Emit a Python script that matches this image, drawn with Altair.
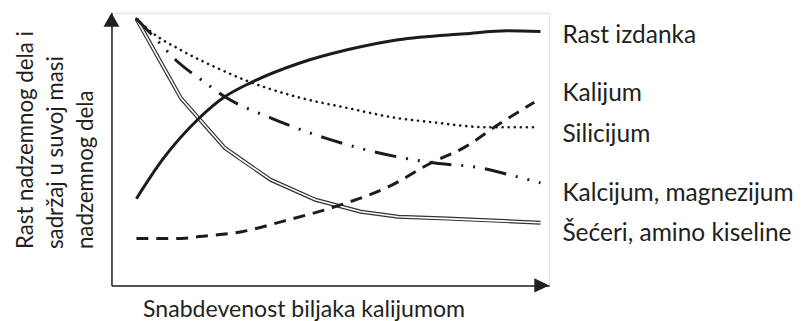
import altair as alt
import pandas as pd

# ---- values (x: potassium supply, y: relative level, both 0-10) ----
rast_x = [0.57, 1.16, 2.0, 2.57, 3.2, 4.27, 5.41, 6.55, 8.07, 9.05, 9.8]
rast_y = [3.18, 4.6, 6.13, 6.9, 7.45, 8.14, 8.65, 9.01, 9.23, 9.34, 9.31]

kal_x = [0.57, 1.61, 2.0, 2.98, 3.89, 5.25, 6.32, 7.3, 8.07, 8.82, 9.66]
kal_y = [1.72, 1.72, 1.79, 1.97, 2.34, 2.96, 3.61, 4.49, 5.07, 5.88, 6.72]

si_x = [0.57, 0.93, 1.61, 2.39, 3.07, 4.27, 5.41, 6.55, 7.3, 8.59, 9.73]
si_y = [9.78, 9.27, 8.61, 7.99, 7.52, 6.9, 6.5, 6.13, 5.99, 5.8, 5.8]

ca_x = [0.57, 1.09, 1.48, 2.07, 2.61, 3.66, 4.89, 6.55, 7.39, 8.43, 9.11, 9.8]
ca_y = [9.78, 8.91, 8.25, 7.52, 6.9, 6.13, 5.4, 4.71, 4.49, 4.31, 4.05, 3.76]

se_x = [0.57, 1.59, 2.59, 2.98, 3.64, 4.66, 5.7, 6.55, 7.68, 9.8]
se_y = [9.78, 6.86, 5.04, 4.6, 3.87, 3.14, 2.7, 2.52, 2.45, 2.3]

labels = ["Rast izdanka", "Kalijum", "Silicijum", "Kalcijum, magnezijum", "Šećeri, amino kiseline"]
label_x = [10.3, 10.3, 10.3, 10.3, 10.3]
label_y = [8.9, 6.75, 5.26, 3.1, 1.64]

x_title = "Snabdevenost biljaka kalijumom"
y_title = ["Rast nadzemnog dela i", "sadržaj u suvoj masi", "nadzemnog dela"]

x_domain = [0, 10]
y_domain = [0, 10]

# ---- styling ----
FONT = "Lato"
INK = "#231f20"
LINE = "#1c1c1c"

X = alt.X(
    "x:Q",
    scale=alt.Scale(domain=x_domain, nice=False, zero=False),
    axis=alt.Axis(
        ticks=False, labels=False, grid=False, domain=True,
        domainColor=INK, domainWidth=1.5,
        title=x_title, titleFont=FONT, titleFontSize=23.2, titleFontWeight="normal",
        titleColor=INK, titleX=193, titleY=31, titleAlign="center",
        titleBaseline="alphabetic", titleAngle=0,
    ),
)
Y = alt.Y(
    "y:Q",
    scale=alt.Scale(domain=y_domain, nice=False, zero=False),
    axis=alt.Axis(
        ticks=False, labels=False, grid=False, domain=True,
        domainColor=INK, domainWidth=1.5,
        title=y_title, titleFont=FONT, titleFontSize=22.4, titleFontWeight="normal",
        titleColor=INK, titleX=-79, titleY=237, titleAlign="left",
        titleBaseline="alphabetic", titleAngle=270, titleLineHeight=30,
    ),
)


def frame(xs, ys):
    return pd.DataFrame({"x": xs, "y": ys, "o": list(range(len(xs)))})


O = alt.Order("o:Q")

rast = alt.Chart(frame(rast_x, rast_y)).mark_line(
    color=LINE, strokeWidth=3, interpolate="monotone"
).encode(x=X, y=Y, order=O)

kal = alt.Chart(frame(kal_x, kal_y)).mark_line(
    color=LINE, strokeWidth=3, strokeDash=[12, 8], interpolate="monotone"
).encode(x=X, y=Y, order=O)

si = alt.Chart(frame(si_x, si_y)).mark_line(
    color=LINE, strokeWidth=2.6, strokeDash=[0.1, 6], strokeCap="round",
    interpolate="monotone"
).encode(x=X, y=Y, order=O)

ca = alt.Chart(frame(ca_x, ca_y)).mark_line(
    color=LINE, strokeWidth=3, strokeDash=[22, 10, 2, 10, 2, 10],
    interpolate="monotone"
).encode(x=X, y=Y, order=O)

se_outer = alt.Chart(frame(se_x, se_y)).mark_line(
    color="#333333", strokeWidth=4, interpolate="linear", strokeJoin="miter"
).encode(x=X, y=Y, order=O)
se_inner = alt.Chart(frame(se_x, se_y)).mark_line(
    color="white", strokeWidth=1.6, interpolate="linear", strokeJoin="miter"
).encode(x=X, y=Y, order=O)

# arrowheads at the ends of the axes
arrow_up = alt.Chart(pd.DataFrame({"x": [x_domain[0]], "y": [y_domain[1]]})).mark_point(
    shape="M0,0 L-0.57,1 L0.57,1 Z", size=784, filled=True, opacity=1, color=INK
).encode(x=X, y=Y)
arrow_right = alt.Chart(pd.DataFrame({"x": [x_domain[1]], "y": [y_domain[0]]})).mark_point(
    shape="M0,0 L-1,-0.47 L-1,0.47 Z", size=900, filled=True, opacity=1, color=INK
).encode(x=X, y=Y)

text = alt.Chart(pd.DataFrame({"x": label_x, "y": label_y, "label": labels})).mark_text(
    align="left", baseline="alphabetic", font=FONT, fontSize=24.6, color=INK
).encode(x=X, y=Y, text="label:N")

chart = alt.layer(
    se_outer, se_inner, kal, si, ca, rast, arrow_up, arrow_right, text
).properties(
    width=440, height=274,
    autosize=alt.AutoSizeParams(type="none"),
    padding={"left": 104, "top": 4, "right": 246, "bottom": 35},
).configure_view(stroke=None).configure(background="white")

chart.save("out.html", embed_options={"renderer": "svg", "actions": False})
